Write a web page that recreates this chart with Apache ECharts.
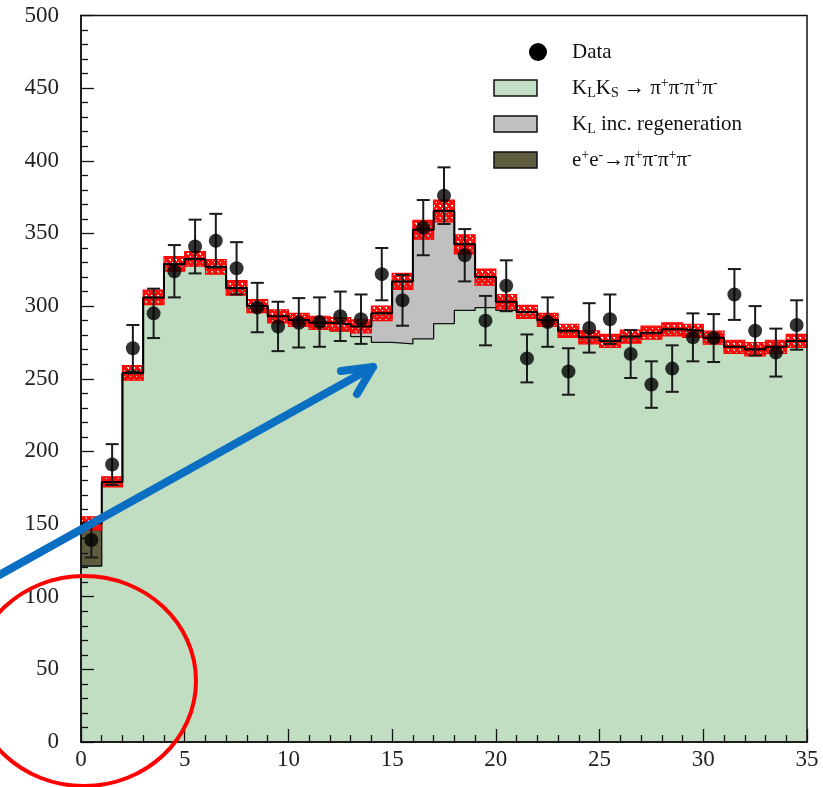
<!DOCTYPE html>
<html>
<head>
<meta charset="utf-8">
<script src="https://cdn.jsdelivr.net/npm/echarts@6/dist/echarts.min.js"></script>
<style>
  html, body { margin: 0; padding: 0; background: #ffffff; }
  #chart { width: 823px; height: 787px; }
</style>
</head>
<body>
<div id="chart"></div>
<script>
// Histogram bin edges (bin width 1)
const binEdges = [0, 1, 2, 3, 4, 5, 6, 7, 8, 9, 10, 11, 12, 13, 14, 15, 16, 17, 18,
  19, 20, 21, 22, 23, 24, 25, 26, 27, 28, 29, 30, 31, 32, 33, 34, 35];

// Simulated components per bin
const klks = [121, 179, 253, 305, 328, 331.5, 326, 311.5, 298.5, 291, 288, 285.5, 283, 279,
  275, 274, 277.5, 288, 297, 299, 297, 294, 289, 282, 277, 275, 278, 280.5, 283, 282,
  277.3, 271, 269.3, 271, 275];
const regen = [0, 0, 1, 1, 1, 1, 1, 1, 1.5, 2, 2.5, 3, 4.5, 7, 20, 43, 75, 77.5, 45.5, 21,
  6, 2, 1.5, 1, 1.5, 1, 1, 1.2, 1, 1, 1, 1, 1, 1, 1];
const eeBkg = [29.5, 0, 0, 0, 0, 0, 0, 0, 0, 0, 0, 0, 0, 0, 0, 0, 0, 0, 0, 0, 0, 0, 0, 0,
  0, 0, 0, 0, 0, 0, 0, 0, 0, 0, 0];
// Uncertainty of the summed simulation
const mcErr = [4.5, 3.5, 5, 5, 5, 5, 5, 5, 4.5, 4.5, 4.5, 4.5, 4.5, 4.5, 5, 5.5, 6.5, 7.5,
  6.5, 5.5, 5, 4.5, 4.5, 4.5, 4.5, 4.5, 4.5, 4.5, 4.5, 4.5, 4.5, 4.5, 4.5, 4.5, 4.5];

// Measured counts and their errors
const dataCounts = [139, 191, 271, 295, 324, 341, 345, 326, 299, 286, 288.5, 289, 293, 291,
  322, 304, 354, 376, 335, 290, 314, 264, 289, 255, 285, 291, 267, 246, 257, 278.5, 278,
  308, 283, 268, 287];
const dataErr = [12, 14, 16, 17, 18, 18.5, 18.5, 18, 17, 17, 17, 17, 17, 17, 18, 17.5, 19,
  19.5, 18, 17, 17.5, 16.5, 17, 16, 17, 17, 16.5, 16, 16, 16.5, 16.5, 17.5, 17, 16.5, 17];

// Axis tick values
const xTicks = [0, 5, 10, 15, 20, 25, 30, 35];
const yTicks = [0, 50, 100, 150, 200, 250, 300, 350, 400, 450, 500];

// Legend entries
const legendLabels = [
  'Data',
  'K{sub|L}K{sub|S} \u2192 \u03c0{sup|+}\u03c0{sup|-}\u03c0{sup|+}\u03c0{sup|-}',
  'K{sub|L} inc. regeneration',
  'e{sup|+}e{sup|-}\u2192\u03c0{sup|+}\u03c0{sup|-}\u03c0{sup|+}\u03c0{sup|-}'
];

const COL_GREEN = '#c1dec3';
const COL_GRAY = '#c0c0c0';
const COL_OLIVE = '#5f5b3e';
const SERIF = '"Liberation Serif", "Times New Roman", serif';

// cumulative stacks
const lowerStack = klks;
const midStack = klks.map((v, i) => v + regen[i]);
const totalStack = midStack.map((v, i) => v + eeBkg[i]);

// step-line points: one point per bin edge, last edge repeats the last bin value
function stepPoints(vals) {
  return binEdges.map((e, i) => [e, vals[Math.min(i, vals.length - 1)]]);
}
const binCenters = binEdges.slice(0, -1).map((e, i) => (e + binEdges[i + 1]) / 2);

// hatch tile for the uncertainty band: red with small see-through specks
function makeHatch() {
  const c = document.createElement('canvas');
  c.width = 6; c.height = 6;
  const g = c.getContext('2d');
  g.fillStyle = '#ff0d0d';
  g.fillRect(0, 0, 6, 6);
  g.clearRect(1, 1, 2, 1);
  g.clearRect(2, 2, 1, 1);
  g.clearRect(4, 4, 1, 1);
  return c;
}
const hatch = makeHatch();

const chart = echarts.init(document.getElementById('chart'));

const areaSeries = (name, vals, color, z) => ({
  name: name,
  type: 'line',
  step: 'end',
  symbol: 'none',
  z: z,
  data: stepPoints(vals),
  lineStyle: { color: '#111', width: 1.3 },
  areaStyle: { color: color, opacity: 1 },
  silent: true
});

const option = {
  animation: false,
  backgroundColor: '#ffffff',
  grid: {
    left: 81, right: 16, top: 15.5, bottom: 45,
    show: true, borderColor: '#111', borderWidth: 1.5, z: 8,
    backgroundColor: 'transparent'
  },
  xAxis: {
    type: 'value',
    min: xTicks[0], max: xTicks[xTicks.length - 1], interval: xTicks[1] - xTicks[0],
    z: 9,
    axisLine: { show: true, onZero: false, lineStyle: { color: '#111', width: 1.5 } },
    axisTick: { show: true, inside: true, length: 13, lineStyle: { color: '#111', width: 1.3 } },
    minorTick: { show: true, splitNumber: 5, length: 7, lineStyle: { color: '#111', width: 1.3 } },
    splitLine: { show: false },
    axisLabel: {
      margin: 6, fontFamily: SERIF, fontSize: 23, color: '#222',
      formatter: v => String(v)
    }
  },
  yAxis: {
    type: 'value',
    min: yTicks[0], max: yTicks[yTicks.length - 1], interval: yTicks[1] - yTicks[0],
    z: 9,
    axisLine: { show: true, onZero: false, lineStyle: { color: '#111', width: 1.5 } },
    axisTick: { show: true, inside: true, length: 13, lineStyle: { color: '#111', width: 1.3 } },
    minorTick: { show: true, splitNumber: 5, length: 7, lineStyle: { color: '#111', width: 1.3 } },
    splitLine: { show: false },
    axisLabel: {
      margin: 22, fontFamily: SERIF, fontSize: 23, color: '#222',
      formatter: v => String(v)
    }
  },
  series: [
    areaSeries('e+e- background', totalStack, COL_OLIVE, 1),
    areaSeries('KL regeneration', midStack, COL_GRAY, 2),
    areaSeries('KLKS', lowerStack, COL_GREEN, 3),
    {
      name: 'MC uncertainty',
      type: 'custom',
      z: 4,
      silent: true,
      data: totalStack.map((v, i) => [binEdges[i], binEdges[i + 1], v, mcErr[i]]),
      renderItem: function (params, api) {
        const p0 = api.coord([api.value(0), api.value(2) + api.value(3)]);
        const p1 = api.coord([api.value(1), api.value(2) - api.value(3)]);
        return {
          type: 'rect',
          shape: { x: p0[0], y: p0[1], width: p1[0] - p0[0], height: p1[1] - p0[1] },
          style: { fill: { image: hatch, repeat: 'repeat' }, stroke: '#ff0000', lineWidth: 1.2 }
        };
      }
    },
    {
      name: 'MC total',
      type: 'line',
      step: 'end',
      symbol: 'none',
      z: 5,
      silent: true,
      data: stepPoints(totalStack),
      lineStyle: { color: '#000', width: 2 }
    },
    {
      name: 'Data errors',
      type: 'custom',
      z: 6,
      silent: true,
      data: dataCounts.map((v, i) => [binCenters[i], v, dataErr[i]]),
      renderItem: function (params, api) {
        const top = api.coord([api.value(0), api.value(1) + api.value(2)]);
        const bot = api.coord([api.value(0), api.value(1) - api.value(2)]);
        const hw = 6.5;
        const st = { stroke: '#1a1a1a', lineWidth: 2 };
        return {
          type: 'group',
          children: [
            { type: 'line', shape: { x1: top[0], y1: top[1], x2: bot[0], y2: bot[1] }, style: st },
            { type: 'line', shape: { x1: top[0] - hw, y1: top[1], x2: top[0] + hw, y2: top[1] }, style: st },
            { type: 'line', shape: { x1: bot[0] - hw, y1: bot[1], x2: bot[0] + hw, y2: bot[1] }, style: st }
          ]
        };
      }
    },
    {
      name: 'Data',
      type: 'scatter',
      z: 7,
      silent: true,
      symbol: 'circle',
      symbolSize: 14,
      itemStyle: { color: '#000' },
      data: dataCounts.map((v, i) => [binCenters[i], v])
    }
  ],
  graphic: [
    // legend
    { type: 'circle', z: 50, shape: { cx: 538, cy: 52, r: 9 }, style: { fill: '#000' } },
    { type: 'rect', z: 50, shape: { x: 494, y: 80, width: 43, height: 16 }, style: { fill: COL_GREEN, stroke: '#111', lineWidth: 1.5 } },
    { type: 'rect', z: 50, shape: { x: 494, y: 116, width: 43, height: 16 }, style: { fill: COL_GRAY, stroke: '#111', lineWidth: 1.5 } },
    { type: 'rect', z: 50, shape: { x: 494, y: 152, width: 43, height: 16 }, style: { fill: COL_OLIVE, stroke: '#111', lineWidth: 1.5 } }
  ].concat(legendLabels.map((t, i) => ({
    type: 'text', z: 50, x: 572, y: 52 + 36 * i,
    style: {
      text: t, fill: '#111', fontFamily: SERIF, fontSize: 21,
      align: 'left', verticalAlign: 'middle',
      rich: {
        sub: { fontFamily: SERIF, fontSize: 14, fill: '#111', padding: [10, 0, 0, 0] },
        sup: { fontFamily: SERIF, fontSize: 14, fill: '#111', padding: [0, 0, 10, 0] }
      }
    }
  }))).concat([
    // annotations: arrow and ring
    { type: 'polyline', z: 60, shape: { points: [[-6, 578], [373, 367]] },
      style: { stroke: '#0a6fc2', lineWidth: 8, lineCap: 'round', fill: null } },
    { type: 'polyline', z: 60, shape: { points: [[341, 371], [373, 367], [357, 394]] },
      style: { stroke: '#0a6fc2', lineWidth: 8, lineCap: 'round', lineJoin: 'round', fill: null } },
    { type: 'ellipse', z: 60, shape: { cx: 84, cy: 681, rx: 112, ry: 105 },
      style: { stroke: '#ff0000', lineWidth: 4, fill: null } }
  ])
};

chart.setOption(option);
</script>
</body>
</html>
